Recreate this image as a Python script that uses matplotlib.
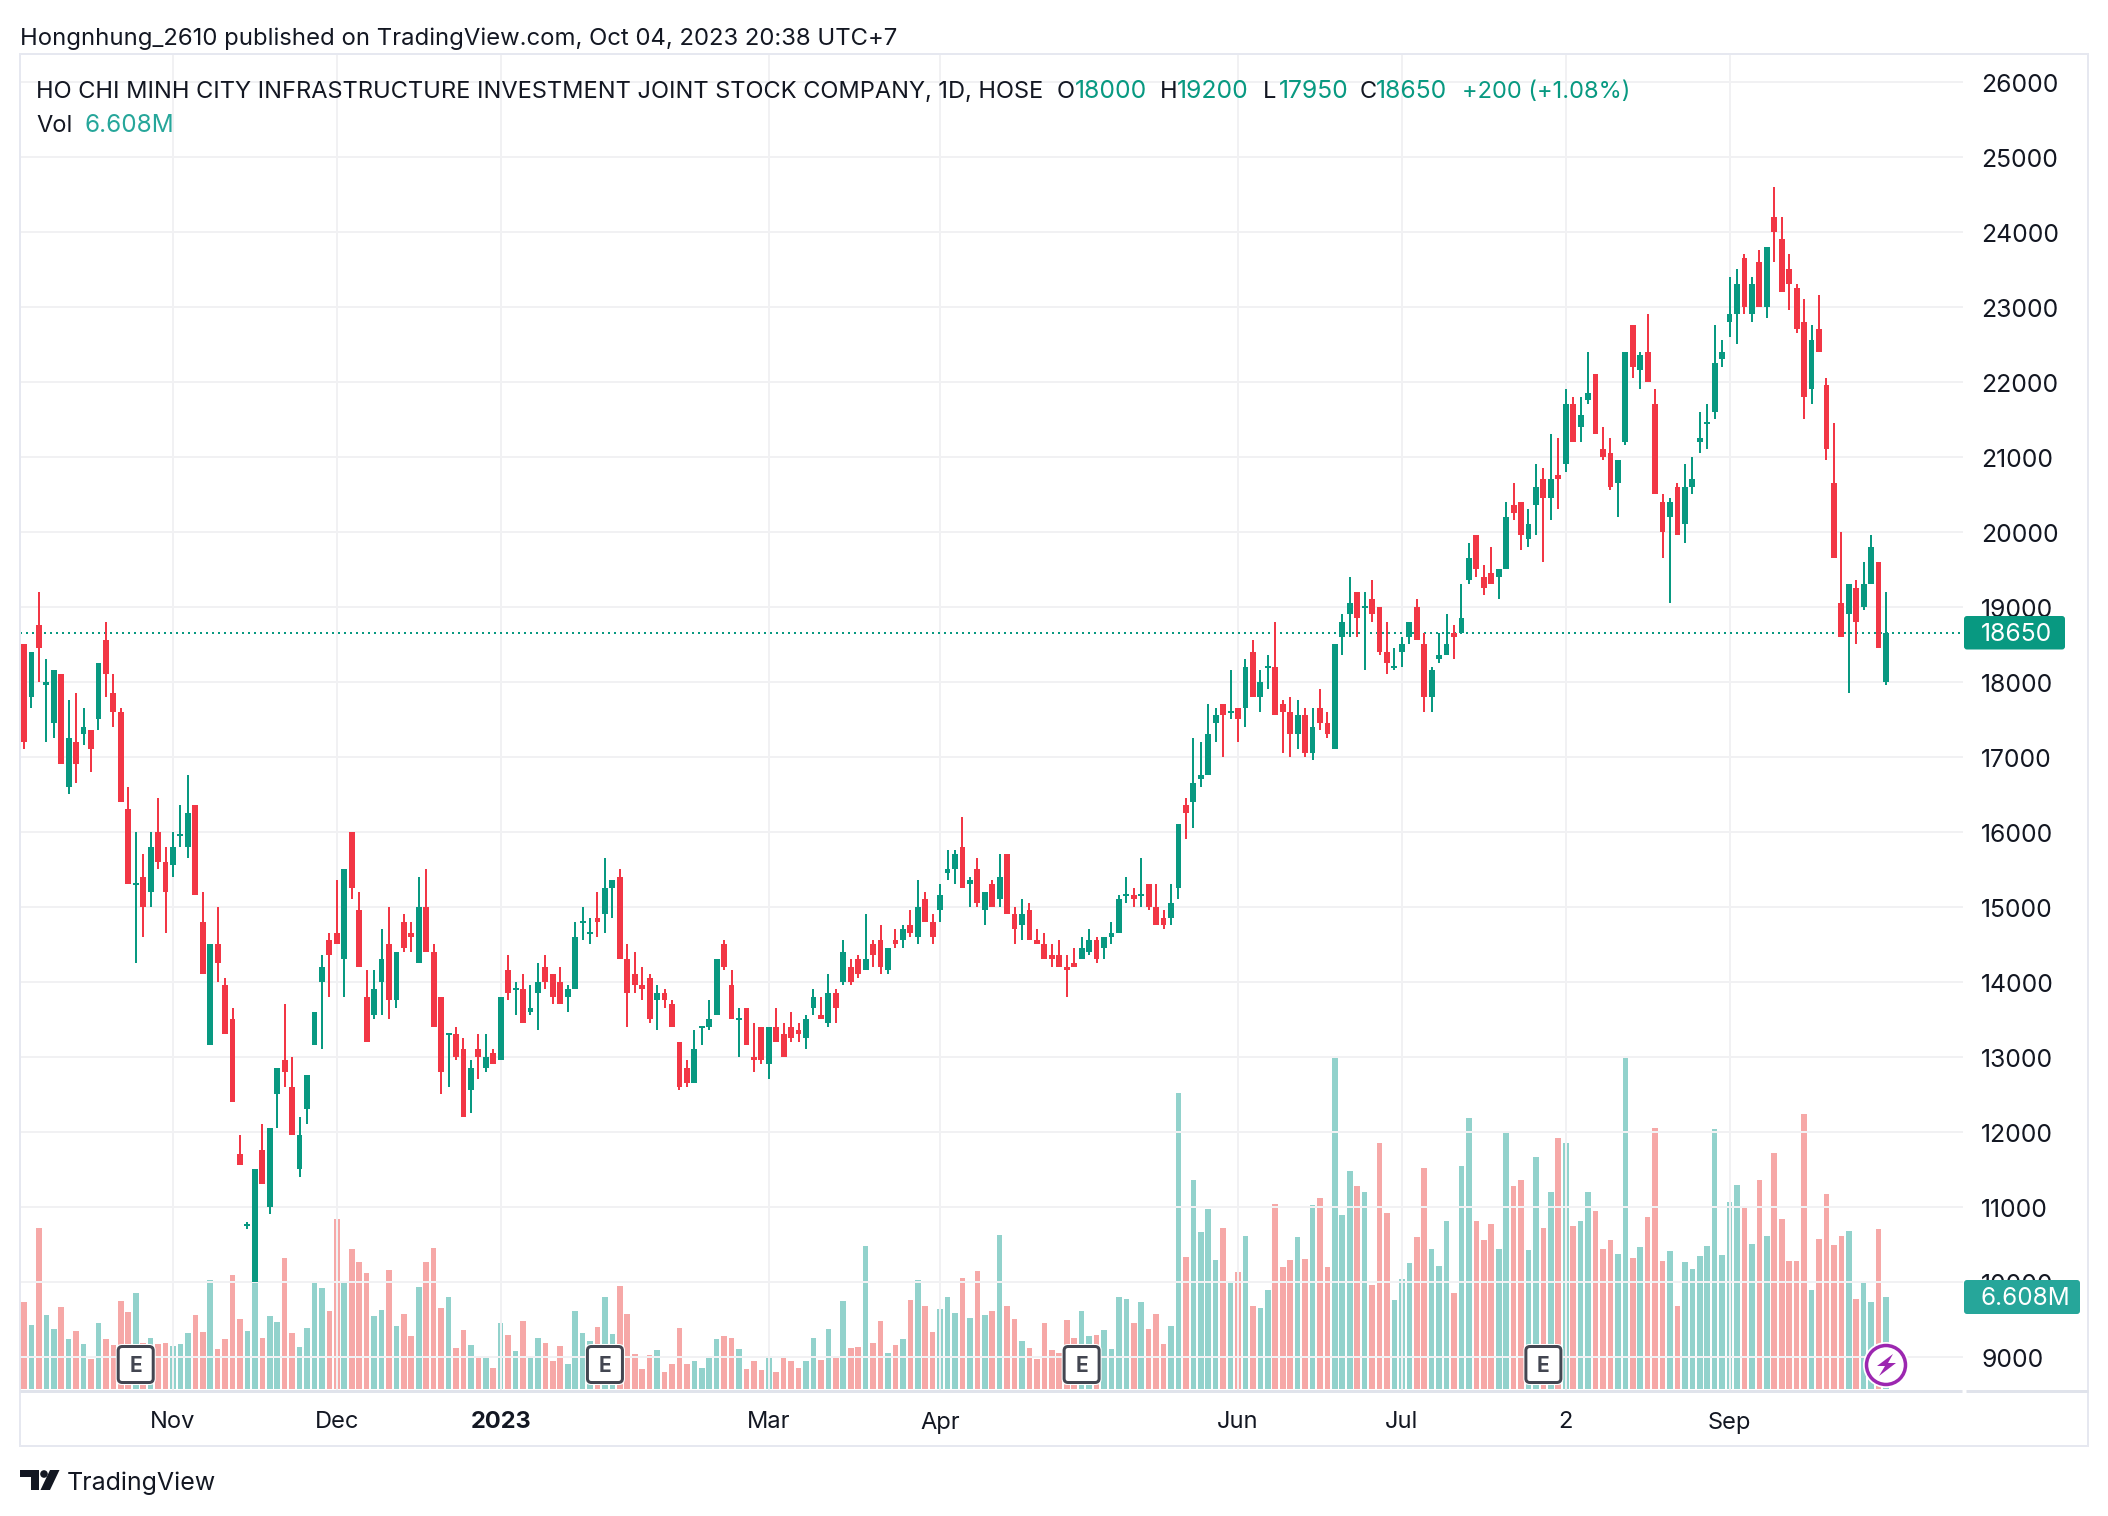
import numpy as np
import matplotlib
matplotlib.use("Agg")
import matplotlib.pyplot as plt
from matplotlib.patches import FancyBboxPatch, Polygon, Circle, Rectangle
from matplotlib.transforms import ScaledTranslation

plt.rcParams['font.family'] = ['Inter', 'DejaVu Sans']

opens = [18500,17800,18750,17950,17450,18100,16600,17200,17300,17350,
         17500,18550,17850,17600,16300,15300,15400,15200,16000,15600,
         15550,15950,15800,16350,14800,13150,14500,13950,13500,11700,
         10750,10000,11750,11000,12500,12950,12600,11500,12300,13150,
         14000,14550,14650,14300,16000,14950,13800,13550,14000,14500,
         13750,14800,14650,14250,15000,14400,13800,13300,13300,13100,
         12550,13100,12850,13050,12950,14150,13900,13900,13600,13850,
         14200,14100,14000,13800,13900,14800,14650,14850,14900,15250,
         15400,14300,14100,13950,14050,13750,13850,13700,13200,12850,
         12650,13400,13400,13550,14500,13950,13500,13650,13000,13400,
         12900,13400,13300,13400,13350,13250,13650,13550,13450,13850,
         14000,14200,14300,14150,14500,14550,14150,14550,14550,14750,
         14600,15100,14800,14950,15450,15500,15800,15300,15500,14950,
         15300,15100,15700,14900,14750,14950,14550,14500,14350,14350,
         14200,14250,14300,14400,14550,14450,14600,14650,15150,15150,
         15150,15300,15000,14850,14850,15250,16350,16400,16700,16750,
         17450,17700,17600,17650,17650,18400,17800,18200,18200,17700,
         17600,17300,17550,17050,17650,17450,17100,18600,18900,19200,
         19000,19100,19000,18400,18200,18400,18600,19000,18500,17800,
         18300,18350,18650,18650,19350,19950,19400,19450,19400,19500,
         20350,20400,19900,20350,20700,20450,20750,20900,21700,21400,
         21750,22100,21100,21050,20650,21200,22750,22150,22400,21700,
         20400,20200,20600,20100,20600,21200,21450,21600,22300,22800,
         22900,23650,22900,23600,23000,24200,23900,23500,23250,22800,
         21900,22700,21950,20650,19050,18900,19250,19000,19300,19600,18000]
highs = [18500,18400,19200,18300,18150,18100,17750,17850,17650,17350,
         18250,18800,18100,17650,16600,16000,15700,16000,16450,15800,
         16000,16350,16750,16350,15200,14500,15000,14050,13650,11950,
         10800,11500,12100,12050,12850,13700,13000,12200,12750,13600,
         14350,14650,15350,15500,16000,15200,14150,14150,14700,15000,
         14400,14900,14800,15400,15500,14500,13800,13300,13400,13250,
         12950,13300,13300,13100,13800,14350,14000,14100,13950,14250,
         14350,14100,14200,13950,14800,15000,14850,15200,15650,15350,
         15500,14500,14400,14200,14100,13950,13900,13750,13200,12950,
         13350,13400,13750,14300,14550,14150,13650,13650,13450,13400,
         13400,13650,13450,13600,13450,13550,13900,13800,14100,13900,
         14550,14300,14350,14900,14550,14750,14450,14700,14750,14950,
         15350,15200,14900,15300,15750,15750,16200,15400,15650,15200,
         15350,15700,15700,15000,15100,15050,14700,14650,14500,14550,
         14350,14450,14600,14700,14600,14600,14800,15150,15400,15250,
         15650,15300,15300,14950,15300,16100,16450,17250,17200,17700,
         17650,17700,18150,17650,18300,18550,18150,18350,18800,17750,
         17800,17750,17650,17650,17900,17600,18500,18900,19400,19200,
         19200,19350,19000,18800,18450,18600,18800,19100,18650,18200,
         18650,18900,18750,19300,19850,19950,19550,19800,19500,20400,
         20650,20400,20300,20900,20850,21300,21250,21900,21800,21800,
         22400,22100,21400,21250,20950,22400,22750,22400,22900,21900,
         20500,20450,20650,20900,21000,21600,21700,22750,22550,23400,
         23500,23700,23400,23750,23800,24600,24200,23700,23300,23100,
         22750,23150,22050,21450,20000,19300,19350,19600,19950,19600,19200]
lows = [17100,17650,18000,17200,17250,16900,16500,16650,17150,16800,
        17350,17800,17400,16400,15300,14250,14600,15000,15500,14650,
        15400,15800,15650,15150,14100,13150,14000,13300,12400,11550,
        10700,10000,11300,10900,12050,12600,11950,11400,12100,13150,
        13100,13800,14500,13800,15100,14200,13200,13500,13550,13500,
        13650,14400,14400,14250,14400,13400,12500,12600,12950,12200,
        12250,12700,12800,12900,12950,13750,13550,13450,13550,13350,
        13900,13700,13700,13600,13900,14550,14500,14600,14650,14850,
        14300,13400,13850,13750,13450,13350,13650,13400,12550,12600,
        12650,13150,13350,13550,14150,13500,13000,13150,12800,12900,
        12700,13200,13000,13200,13200,13100,13550,13500,13400,13450,
        13950,13950,14050,14150,14200,14100,14100,14450,14450,14600,
        14500,14800,14500,14800,15350,15300,15250,15000,15000,14750,
        15000,15000,14900,14500,14550,14550,14500,14300,14200,14200,
        13800,14200,14300,14350,14250,14300,14500,14650,15050,15000,
        15000,14950,14750,14700,14750,15100,15900,16050,16600,16750,
        17200,17000,17500,17200,17400,17800,17600,17900,17550,17050,
        17000,17100,17000,16950,17350,17250,17100,18350,18600,18600,
        18150,18800,18350,18100,18150,18200,18500,18550,17600,17600,
        18250,18350,18300,18650,19300,19400,19150,19300,19100,19500,
        20150,19750,19800,19950,19600,20150,20300,20800,21200,21200,
        21700,21300,20950,20550,20200,21150,22050,21900,22000,20500,
        19650,19050,19950,19850,20500,21050,21100,21500,22200,22600,
        22500,22900,22800,23000,22850,23600,23200,22950,22650,21500,
        21700,22400,20950,19650,18600,17850,18500,18950,19300,18450,17950]
closes = [17200,18400,18450,18000,18150,16900,17250,16900,17400,17100,
          18250,18100,17600,16400,15300,15300,15000,15800,15600,15200,
          15800,15950,16250,15150,14100,14500,14250,13300,12400,11550,
          10750,11500,11300,12050,12850,12800,11950,11950,12750,13600,
          14200,14350,14500,15500,15250,14200,13200,13900,14300,13750,
          14400,14450,14600,15000,14400,13400,12800,13300,13000,12200,
          12850,13000,13000,12900,13800,13850,13900,13450,13650,14000,
          14000,13800,13700,13900,14600,14800,14650,14800,15250,15350,
          14300,13850,13950,13900,13500,13850,13750,13400,12600,12650,
          13100,13400,13500,14300,14200,13500,13500,13150,12950,12950,
          13400,13200,13000,13250,13300,13500,13800,13500,13850,13650,
          14400,14000,14100,14300,14350,14200,14450,14500,14700,14650,
          15000,14800,14600,15150,15500,15700,15250,15350,15050,15200,
          15000,15400,14900,14700,14900,14550,14500,14300,14300,14200,
          14150,14200,14450,14550,14300,14600,14650,15100,15150,15100,
          15150,15000,14750,14750,15050,16100,16250,16650,16750,17300,
          17550,17550,17600,17500,18200,17800,18000,18200,17550,17600,
          17300,17550,17050,17400,17450,17300,18500,18800,19050,18850,
          19000,18900,18400,18250,18200,18500,18800,18550,17800,18150,
          18350,18500,18600,18850,19650,19500,19250,19300,19500,20200,
          20250,19950,20100,20600,20450,20700,20700,21700,21200,21550,
          21850,21300,21000,20600,20950,22400,22200,22350,22000,20500,
          20000,20400,19950,20600,20700,21250,21450,22250,22400,22900,
          23300,23000,23300,23000,23800,24000,23200,23300,22700,21800,
          22550,22400,21100,19650,18600,19300,18800,19300,19800,18450,18650]
# volume in millions
volumes = [6.24,4.6,11.55,5.3,4.3,5.9,3.6,4.2,3.2,2.15,
           4.75,3.6,3.15,6.3,5.5,6.9,3.3,3.7,3.2,3.3,
           3.1,3.2,4.0,5.3,4.1,7.8,2.9,3.6,8.2,5.0,
           4.2,7.7,3.65,5.25,4.8,9.4,4.0,3.0,4.4,7.6,
           7.25,5.6,12.2,7.75,10.05,9.1,8.3,5.25,5.65,8.55,
           4.5,5.4,3.8,7.3,9.1,10.1,5.8,6.6,2.95,4.25,
           3.15,2.3,2.35,1.5,4.75,3.9,2.7,4.9,2.2,3.65,
           3.3,2.0,3.1,1.8,5.6,4.0,3.45,4.45,6.6,3.95,
           7.4,5.4,2.5,1.45,2.45,2.8,1.2,1.8,4.4,1.8,
           2.0,1.5,2.3,3.6,3.8,3.65,2.85,1.45,2.0,1.35,
           2.35,1.2,2.35,2.0,1.5,2.0,3.7,2.1,4.3,2.35,
           6.3,2.95,3.0,10.3,3.3,4.9,2.6,3.15,3.6,6.4,
           7.8,5.95,4.1,5.75,6.6,5.45,7.95,5.1,8.45,5.3,
           5.6,11.05,5.95,5.0,3.45,2.95,2.15,4.75,2.8,2.6,
           4.95,3.65,5.6,3.8,3.9,4.25,2.85,6.6,6.45,4.75,
           6.25,4.3,5.4,3.25,4.5,21.25,9.45,15.05,11.25,12.9,
           9.25,11.6,7.6,8.4,11.0,6.0,5.8,7.1,13.3,8.75,
           9.25,10.9,9.35,13.2,13.7,8.75,23.9,12.5,15.65,14.55,
           14.15,7.45,17.7,12.65,6.4,7.9,9.05,10.9,15.85,10.05,
           8.85,12.05,6.9,16.0,19.5,12.05,10.7,11.85,10.05,18.4,
           14.55,15.0,10.0,16.7,11.55,14.15,18.0,17.7,11.7,12.1,
           14.15,12.8,10.05,10.7,9.7,23.75,9.4,10.2,12.35,18.75,
           9.2,9.9,5.95,9.1,8.6,9.55,10.25,18.65,9.6,13.4,
           14.65,13.15,10.4,15.05,11.0,16.95,12.2,9.2,9.2,19.75,
           7.1,10.75,14.0,10.35,11.0,11.35,6.45,7.6,6.25,11.5,6.608]

price_ticks = list(range(9000, 26001, 1000))
time_idx = [20, 42, 64, 100, 123, 163, 185, 207, 229]
time_labels = ['Nov', 'Dec', '2023', 'Mar', 'Apr', 'Jun', 'Jul', '2', 'Sep']
earnings_idx = [15, 78, 142, 204]
last_price = 18650

UP = '#089981'
DOWN = '#F23645'
TEXT = '#131722'
GRID = '#f1f1f3'
BORDER = '#e6e8f0'

W, H = 2108, 1516
L, R, T, B = 20, 1963, 55, 1390
fig = plt.figure(figsize=(W / 100, H / 100), dpi=100, facecolor='white')
rect = [L / W, 1 - B / H, (R - L) / W, (B - T) / H]

# x pixel = 24 + 7.448 * index
xlim = ((L - 24) / 7.448, (R - 24) / 7.448)
px = 72 / 100  # points per pixel

# volume pane goes under the price pane
vol = fig.add_axes(rect, zorder=1)
ax = fig.add_axes(rect, zorder=2)
ax.patch.set_visible(False)

o = np.array(opens)
h = np.array(highs)
l = np.array(lows)
c = np.array(closes)
v = np.array(volumes)
x = np.arange(len(o))
up = c >= o
colors = np.where(up, UP, DOWN)

vol_colors = [('#26a69a', 0.5) if u else ('#ef5350', 0.5) for u in up]
vol.bar(x, v, width=5.6 / 7.448, color=vol_colors, linewidth=0)
vol.set_xlim(xlim)
vol.set_ylim(-0.07, -0.07 + (B - T) / 13.92)
vol.axis('off')

# grid
ax.set_axisbelow(True)
ax.set_xlim(xlim)
ax.set_ylim(19000 - (B - 606.6) / 0.075, 19000 + (606.6 - T) / 0.075)
ax.set_yticks(price_ticks)
ax.set_yticklabels([str(p) for p in price_ticks])
ax.yaxis.tick_right()
ax.set_xticks(time_idx)
ax.set_xticklabels(time_labels)
ax.tick_params(axis='y', length=0, pad=18 * px, labelsize=17.8, labelcolor=TEXT)
ax.tick_params(axis='x', length=0, pad=21.5 * px, labelsize=17, labelcolor=TEXT)
ax.get_xticklabels()[2].set_fontweight('bold')
shift = ScaledTranslation(0, -1.3 / 100, fig.dpi_scale_trans)
for lbl in ax.get_yticklabels():
    lbl.set_transform(lbl.get_transform() + shift)
ax.grid(True, color=GRID, linewidth=2 * px)
for s in ax.spines.values():
    s.set_visible(False)

ax.axhline(last_price, color=UP, linewidth=2 * px, linestyle=(0, (1, 2)), zorder=1.5)

# candles
ax.vlines(x, l, h, color=colors, linewidth=2 * px, zorder=3)
ax.bar(x, np.abs(c - o), bottom=np.minimum(o, c), width=5.8 / 7.448, color=colors, linewidth=0, zorder=3)
doji = o == c
ax.hlines(o[doji], x[doji] - 3 / 7.448, x[doji] + 3 / 7.448, color=colors[doji], linewidth=2 * px, zorder=3)

# overlay in pixel coords for frame, labels and badges
ov = fig.add_axes([0, 0, 1, 1], zorder=3)
ov.set_xlim(0, W)
ov.set_ylim(H, 0)
ov.axis('off')
ov.patch.set_visible(False)

ov.add_patch(Rectangle((20, 54), 2068, 1392, fill=False, edgecolor=BORDER, linewidth=2 * px))
ov.plot([20, 1962], [1390.5, 1390.5], color='#e0e3eb', linewidth=3 * px, solid_capstyle='butt')
ov.plot([1966, 2088], [1390.5, 1390.5], color='#e0e3eb', linewidth=3 * px, solid_capstyle='butt')

ov.text(20, 38.5, 'Hongnhung_2610 published on TradingView.com, Oct 04, 2023 20:38 UTC+7',
        fontsize=17.2, color=TEXT, va='center', ha='left')

ty = 92
ov.text(36, ty, 'HO CHI MINH CITY INFRASTRUCTURE INVESTMENT JOINT STOCK COMPANY, 1D, HOSE',
        fontsize=17, color=TEXT, va='center', ha='left')
for xp, s, col in [(1057, 'O', TEXT), (1075, '18000', UP), (1160, 'H', TEXT), (1177, '19200', UP),
                   (1263, 'L', TEXT), (1279, '17950', UP), (1360, 'C', TEXT), (1376, '18650', UP),
                   (1462, '+200 (+1.08%)', UP)]:
    fs = 17.8 if s[0].isdigit() else 17
    ov.text(xp, ty, s, fontsize=fs, color=col, va='center', ha='left')
ov.text(36, 126, 'Vol', fontsize=17, color=TEXT, va='center', ha='left')
ov.text(85, 126, '6.608M', fontsize=17.5, color='#26a69a', va='center', ha='left')

# last price and last volume tags
ov.add_patch(FancyBboxPatch((1964, 616), 101, 33.5, boxstyle='round,pad=0,rounding_size=3',
                            facecolor=UP, edgecolor='none'))
ov.text(1981, 634.5, '18650', fontsize=17.8, color='white', va='center', ha='left')
ov.add_patch(FancyBboxPatch((1964, 1280), 116, 34, boxstyle='round,pad=0,rounding_size=3',
                            facecolor='#26a69a', edgecolor='none'))
ov.text(1981, 1298.5, '6.608M', fontsize=17.5, color='white', va='center', ha='left')

# earnings badges
for i in earnings_idx:
    cx = 24 + 7.448 * i
    ov.add_patch(FancyBboxPatch((cx - 20, 1344), 40, 41, boxstyle='round,pad=0,rounding_size=6',
                                facecolor='white', edgecolor='none'))
    ov.add_patch(FancyBboxPatch((cx - 17.5, 1346.5), 35, 36, boxstyle='round,pad=0,rounding_size=4',
                                facecolor='white', edgecolor='#434651', linewidth=3 * px))
    ov.text(cx, 1365.5, 'E', fontsize=15, fontweight='bold', color='#434651', va='center', ha='center')

# lightning badge
cx, cy = 24 + 7.448 * 250, 1365
ov.add_patch(Circle((cx, cy), 23, facecolor='white', edgecolor='none'))
ov.add_patch(Circle((cx, cy), 19.5, facecolor='white', edgecolor='#9C27B0', linewidth=3.5 * px))
ov.add_patch(Polygon([(cx + 7, cy - 11), (cx - 9, cy + 1), (cx - 1, cy + 1), (cx - 7, cy + 11),
                      (cx + 10, cy - 2), (cx + 2, cy - 2)], closed=True, facecolor='#9C27B0', edgecolor='none'))

# logo
LOGO = '#131722'
ov.add_patch(Polygon([(20, 1470), (39, 1470), (39, 1490), (31, 1490), (31, 1477), (20, 1477)],
                     closed=True, facecolor=LOGO, edgecolor='none'))
ov.add_patch(Circle((44, 1474), 3.8, facecolor=LOGO, edgecolor='none'))
ov.add_patch(Polygon([(50, 1470), (59.5, 1470), (50, 1490), (40.5, 1490)], closed=True,
                     facecolor=LOGO, edgecolor='none'))
ov.text(67, 1483, 'TradingView', fontsize=18, color=LOGO, va='center', ha='left')

fig.savefig('out.png', dpi=100)
